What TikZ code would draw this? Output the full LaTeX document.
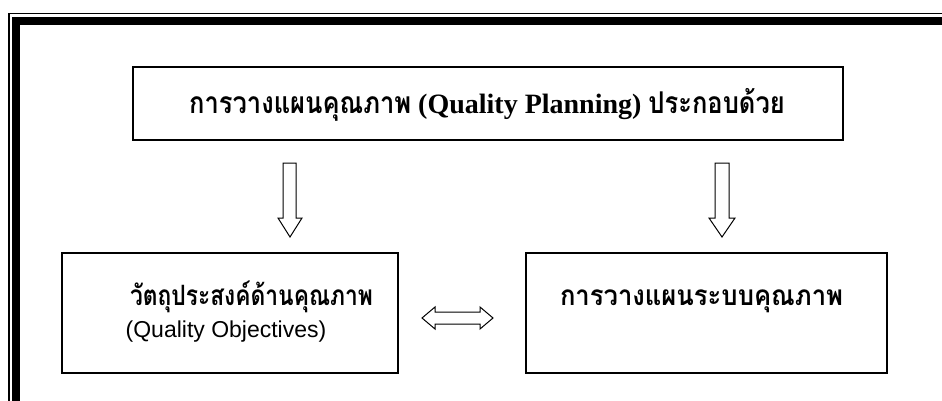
\documentclass[tikz,border=0pt]{standalone}
\usepackage{fontspec}
\usepackage{graphicx}
\setmainfont{Liberation Serif}
\newfontfamily\thaibold[Script=Thai]{Loma Bold}
\newfontfamily\arialike{Liberation Sans}
% Thai text squeezed horizontally to a given width, height unchanged
\newcommand\thaiw[2]{\resizebox{#1}{\height}{\fontsize{28}{28}\thaibold #2}}
% Thai text of the heading, narrowed by a fixed factor
\newcommand\thaihead[1]{\scalebox{0.85}[1]{\fontsize{30}{30}\thaibold #1}}
\begin{document}
\begin{tikzpicture}[x=1pt,y=-1pt,
  box/.style={draw,line width=1.5pt},
  blockarrow/.style={draw,line width=1pt,fill=white,line join=miter},
  txt/.style={inner sep=0pt,anchor=base}]
\useasboundingbox (0,0) rectangle (942,401);
\clip (0,0) rectangle (942,401);
% double page frame: thin outer rule and heavy inner rule
\draw[line width=1.5pt] (8.75,13.75) rectangle (960,420);
\draw[line width=8pt] (15.5,21) rectangle (960,420);
% heading box
\draw[box] (133,67) rectangle (843,140);
\node[txt] (head) at (487,114) {\thaihead{การวางแผนคุณภาพ}\hspace{7pt}{\fontsize{28}{28}\selectfont\rmfamily\bfseries(Quality Planning)}\hspace{7pt}\thaihead{ประกอบด้วย}};
% the two lower boxes
\draw[box] (62,253) rectangle (398,373);
\draw[box] (526,253) rectangle (887,373);
\node[txt] (obj) at (251.5,305) {\thaiw{243pt}{วัตถุประสงค์ด้านคุณภาพ}};
\node[txt] (objen) at (226,337) {\fontsize{23}{23}\arialike (Quality Objectives)};
\node[txt] (sys) at (701.5,305) {\thaiw{283pt}{การวางแผนระบบคุณภาพ}};
% hollow block arrows
\draw[blockarrow] (283,163) -- (296,163) -- (296,218) -- (302,218) -- (290,237)
  -- (278,218) -- (283,218) -- cycle;
\draw[blockarrow] (715,163) -- (729,163) -- (729,218) -- (735,218) -- (722,237)
  -- (709,218) -- (715,218) -- cycle;
\draw[blockarrow] (422,318) -- (435,307) -- (435,312) -- (480,312) -- (480,307)
  -- (493,318) -- (480,329) -- (480,324) -- (435,324) -- (435,329) -- cycle;
\end{tikzpicture}
\end{document}
